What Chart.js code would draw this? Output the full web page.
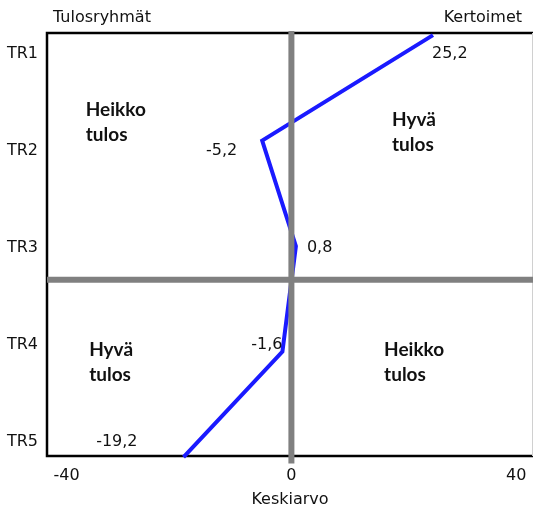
<!DOCTYPE html>
<html>
<head>
<meta charset="utf-8">
<script src="https://cdn.jsdelivr.net/npm/chart.js@4"></script>
<style>
  html, body { margin: 0; padding: 0; background: #fff; }
  #wrap { width: 534px; height: 509px; }
</style>
</head>
<body>
<div id="wrap"><canvas id="chart"></canvas></div>
<script>
// tulosryhmät ja kertoimet
const groups = ['TR1', 'TR2', 'TR3', 'TR4', 'TR5'];
const groupPos = [1, 2, 3, 4, 5];
const coefficients = [25.2, -5.2, 0.8, -1.6, -19.2];
const xTicks = [-40, 0, 40];
const dividerY = 3.32;   // harmaa vaakaviiva
const zeroX = 0;

const FONT = '"DejaVu Sans", sans-serif';
const BOLD_FONT = 'Lato, "DejaVu Sans", sans-serif';

const blueLine = groups.map((g, i) => ({ x: coefficients[i], y: groupPos[i] }));

// arvojen tekstit (siirrot pikseleinä)
const labelOffsets = [
  { dx: -1, align: 'left' },
  { dx: -25, align: 'right' },
  { dx: 11, align: 'left' },
  { dx: 0, align: 'right' },
  { dx: -46, align: 'right' }
];

const quadrantText = [
  { lines: ['Heikko', 'tulos'], x: -36.6, y: 1.71 },
  { lines: ['Hyvä', 'tulos'], x: 17.9, y: 1.80 },
  { lines: ['Hyvä', 'tulos'], x: -36.0, y: 3.985 },
  { lines: ['Heikko', 'tulos'], x: 16.5, y: 3.985 }
];

const extras = {
  id: 'extras',
  beforeDatasetsDraw(chart) {
    const { ctx, chartArea: a } = chart;
    ctx.save();
    // kehys
    ctx.strokeStyle = '#000';
    ctx.lineWidth = 2.5;
    ctx.beginPath();
    ctx.moveTo(a.right, a.top);
    ctx.lineTo(a.left, a.top);
    ctx.lineTo(a.left, a.bottom);
    ctx.lineTo(a.right, a.bottom);
    ctx.stroke();
    ctx.strokeStyle = '#d0d0d0';
    ctx.lineWidth = 1;
    ctx.beginPath();
    ctx.moveTo(a.right - 0.5, a.top);
    ctx.lineTo(a.right - 0.5, a.bottom);
    ctx.stroke();
    ctx.restore();
  },
  afterDatasetsDraw(chart) {
    const { ctx, scales } = chart;
    const x = scales.x, y = scales.y, y2 = scales.y2;
    ctx.save();
    ctx.fillStyle = '#111';
    ctx.textBaseline = 'middle';
    ctx.font = '16px ' + FONT;
    // otsikot ylhäällä
    ctx.textAlign = 'left';
    ctx.fillText('Tulosryhmät', 53, 18);
    ctx.textAlign = 'right';
    ctx.fillText('Kertoimet', 522, 18);
    // arvot
    coefficients.forEach((v, i) => {
      const o = labelOffsets[i];
      ctx.textAlign = o.align;
      ctx.fillText(String(v).replace('.', ','), x.getPixelForValue(v) + o.dx, y2.getPixelForValue(groupPos[i]));
    });
    // nelikentän tekstit
    ctx.font = 'bold 19px ' + BOLD_FONT;
    ctx.textAlign = 'left';
    quadrantText.forEach(q => {
      const px = x.getPixelForValue(q.x);
      const py = y.getPixelForValue(q.y);
      q.lines.forEach((t, k) => ctx.fillText(t, px, py + k * 25));
    });
    ctx.restore();
  }
};

new Chart(document.getElementById('chart'), {
  type: 'line',
  data: {
    datasets: [
      {
        data: [{ x: zeroX, y: 0.96 }, { x: zeroX, y: 5.06 }],
        borderColor: '#808080',
        borderWidth: 6,
        pointRadius: 0,
        clip: false,
        yAxisID: 'y'
      },
      {
        data: [{ x: -43.5, y: dividerY }, { x: 43, y: dividerY }],
        borderColor: '#808080',
        borderWidth: 6,
        pointRadius: 0,
        yAxisID: 'y'
      },
      {
        data: blueLine,
        borderColor: '#1a1aff',
        borderWidth: 4,
        pointRadius: 0,
        tension: 0,
        clip: false,
        yAxisID: 'y'
      }
    ]
  },
  options: {
    responsive: true,
    maintainAspectRatio: false,
    animation: false,
    layout: { padding: { top: 33, right: 1, left: 0, bottom: 0 } },
    plugins: { legend: { display: false }, tooltip: { enabled: false } },
    scales: {
      x: {
        type: 'linear',
        min: -43.5,
        max: 43,
        afterBuildTicks: s => { s.ticks = xTicks.map(v => ({ value: v })); },
        afterFit: s => { s.height = 53; s.paddingLeft = 0; s.paddingRight = 0; },
        grid: { display: false, drawTicks: false },
        border: { display: false },
        ticks: { padding: 10, color: '#111', font: { family: FONT, size: 16 } },
        title: {
          display: true,
          text: 'Keskiarvo',
          color: '#111',
          padding: { top: 0, bottom: 0 },
          font: { family: FONT, size: 16 }
        }
      },
      y: {
        type: 'linear',
        display: false,
        reverse: true,
        min: 0.98,
        max: 4.99
      },
      y2: {
        type: 'linear',
        position: 'left',
        reverse: true,
        min: 0.7835,
        max: 5.144,
        afterBuildTicks: s => { s.ticks = groupPos.map(v => ({ value: v })); },
        afterFit: s => { s.width = 47; s.paddingTop = 0; s.paddingBottom = 0; },
        grid: { display: false, drawTicks: false },
        border: { display: false },
        ticks: {
          padding: 9,
          color: '#111',
          font: { family: FONT, size: 16 },
          callback: v => groups[groupPos.indexOf(v)]
        }
      }
    }
  },
  plugins: [extras]
});
</script>
</body>
</html>
